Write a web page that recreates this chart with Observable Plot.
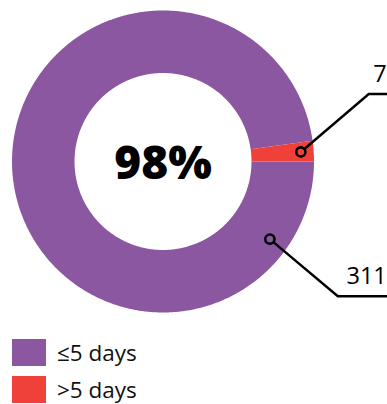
<!DOCTYPE html>
<html>
<head>
<meta charset="utf-8">
<script src="https://cdn.jsdelivr.net/npm/d3@7"></script>
<script src="https://cdn.jsdelivr.net/npm/@observablehq/plot@0.6"></script>
<style>
  html, body { margin: 0; padding: 0; background: #fff; }
  body { width: 387px; height: 404px; overflow: hidden; font-family: "Open Sans", sans-serif; }
  #chart svg { display: block; }
  .legend { margin: 9px 0 0 12px; }
  .legend .row { display: flex; align-items: center; height: 27px; margin-bottom: 10px; }
  .legend .sw { width: 34px; height: 27px; margin-right: 11px; flex: none; }
  .legend .lb { font-size: 22.5px; color: #111; line-height: 27px; }
</style>
</head>
<body>
<div id="chart"></div>
<div class="legend" id="legend"></div>
<script>
// Turnaround time split
const categories = ["≤5 days", ">5 days"];
const counts = [311, 7];
const colors = ["#8A57A0", "#EF413A"];

// Donut layout (radius units; outer radius = 1)
const innerRadius = 0.586;
const markerRadius = [0.875, 0.915];      // leader start radius per slice
const markerAngleDeg = [126, null];       // null = slice mid angle
const elbow = [[0.45, -0.378], [0.45, 0.384]];
const lineEndX = 1.482;

const rows = categories.map((c, i) => ({key: c, value: counts[i]}));
const total = d3.sum(counts);
const share = Math.round(100 * counts[0] / total);

// Slices run clockwise from 3 o'clock
const pie = d3.pie().sort(null).value(d => d.value)
  .startAngle(Math.PI / 2).endAngle(Math.PI / 2 + 2 * Math.PI);
const arcs = pie(rows);

// Ring polygons for each slice
const ring = [];
for (const a of arcs) {
  const n = Math.max(2, Math.ceil((a.endAngle - a.startAngle) / (Math.PI / 360)));
  const outer = d3.range(n + 1).map(k => a.startAngle + (a.endAngle - a.startAngle) * k / n);
  for (const t of outer) ring.push({key: a.data.key, x: Math.sin(t), y: Math.cos(t)});
  for (const t of outer.slice().reverse()) ring.push({key: a.data.key, x: innerRadius * Math.sin(t), y: innerRadius * Math.cos(t)});
}

// Leader lines and value labels
const dotR = 4.6 / 151;
const markers = [], leaders = [], labels = [];
arcs.forEach((a, i) => {
  const ang = markerAngleDeg[i] == null ? (a.startAngle + a.endAngle) / 2 : markerAngleDeg[i] * Math.PI / 180;
  const mx = markerRadius[i] * Math.sin(ang), my = markerRadius[i] * Math.cos(ang);
  const ex = mx + elbow[i][0], ey = my + elbow[i][1];
  const len = Math.hypot(ex - mx, ey - my);
  markers.push({key: a.data.key, x: mx, y: my});
  leaders.push({key: a.data.key, x: mx + (ex - mx) / len * dotR, y: my + (ey - my) / len * dotR});
  leaders.push({key: a.data.key, x: ex, y: ey});
  leaders.push({key: a.data.key, x: lineEndX, y: ey});
  labels.push({key: a.data.key, x: lineEndX, y: ey, text: String(a.data.value)});
});

const chart = Plot.plot({
  width: 387,
  height: 330,
  x: {domain: [-1, 1], range: [11.5, 313.5], axis: null},
  y: {domain: [-1, 1], range: [312, 10], axis: null},
  color: {domain: categories, range: colors},
  style: {fontFamily: "Open Sans, sans-serif", overflow: "visible"},
  marks: [
    Plot.line(ring, {x: "x", y: "y", z: "key", fill: "key", stroke: null}),
    Plot.line(leaders, {x: "x", y: "y", z: "key", stroke: "#000", strokeWidth: 2.4}),
    Plot.dot(markers, {x: "x", y: "y", r: 4.6, stroke: "#000", strokeWidth: 2.6, fill: "none"}),
    Plot.text(labels, {x: "x", y: "y", text: "text", textAnchor: "end", lineAnchor: "bottom", dy: -12, fontSize: 23.5, fill: "#000"}),
    Plot.text([`${share}%`], {x: 0, y: 0, text: d => d, fontSize: 46, fontWeight: 800, fill: "#000", dy: 3})
  ]
});
document.getElementById("chart").appendChild(chart);

// Legend swatches
const legend = document.getElementById("legend");
categories.forEach((c, i) => {
  const row = document.createElement("div");
  row.className = "row";
  const sw = document.createElement("div");
  sw.className = "sw";
  sw.style.background = colors[i];
  const lb = document.createElement("div");
  lb.className = "lb";
  lb.textContent = c;
  row.append(sw, lb);
  legend.appendChild(row);
});
</script>
</body>
</html>
